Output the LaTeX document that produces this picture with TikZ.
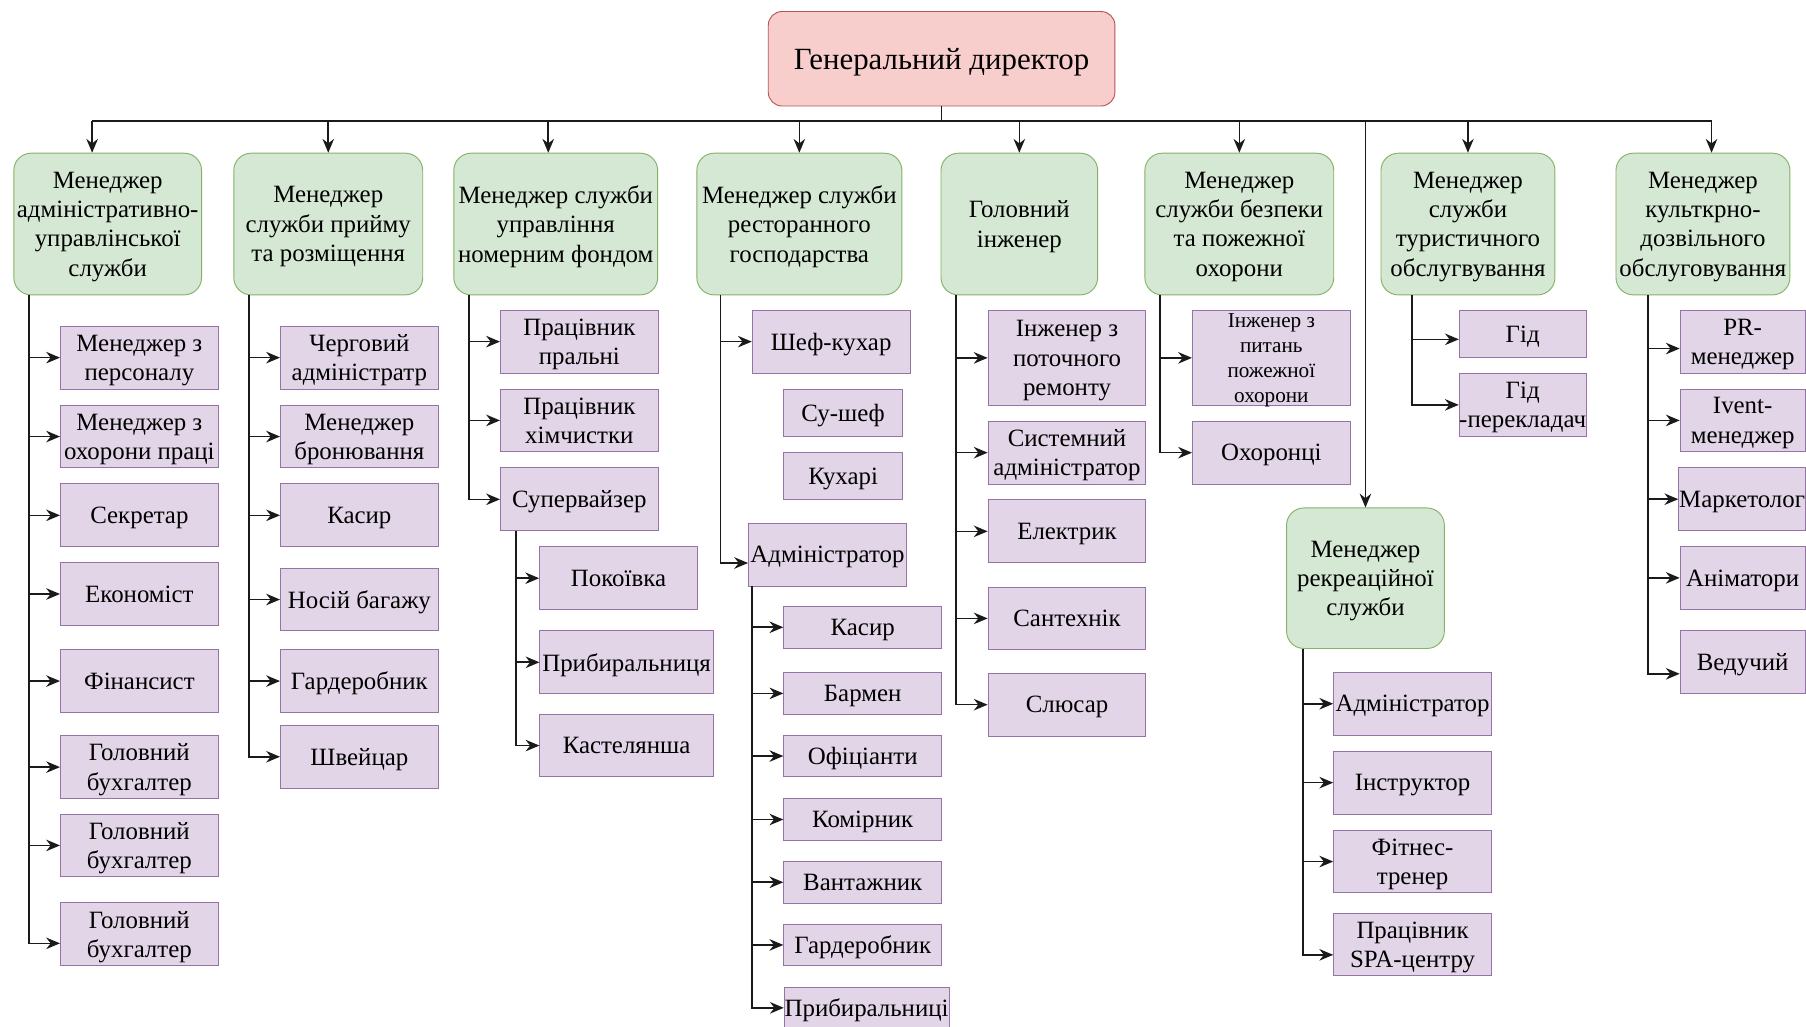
\documentclass[tikz,border=0pt]{standalone}
\usepackage{fontspec}
\setmainfont{Liberation Serif}
\usetikzlibrary{arrows.meta}

\definecolor{bossfill}{HTML}{F8CECC}
\definecolor{bossline}{HTML}{B85450}
\definecolor{mgrfill}{HTML}{D5E8D4}
\definecolor{mgrline}{HTML}{82B366}
\definecolor{stafffill}{HTML}{E1D5E7}
\definecolor{staffline}{HTML}{9673A6}
\definecolor{wirecol}{HTML}{1A1A1A}

\tikzset{
    boss/.style={draw=bossline, fill=bossfill, rounded corners=6pt,
        minimum width=150.5pt, minimum height=41pt,
        font=\fontsize{13.4}{16}\selectfont},
    mgr/.style={draw=mgrline, fill=mgrfill, rounded corners=7.5pt,
        minimum height=61.5pt},
    staff/.style={draw=staffline, fill=stafffill,
        minimum width=68.5pt, minimum height=27.25pt},
    arr/.style={draw=wirecol, line width=0.7pt, -{Stealth[length=6pt,width=5pt]}},
    wire/.style={draw=wirecol, line width=0.7pt},
}

\begin{document}
\begin{tikzpicture}[x=0.5pt, y=-0.5pt,
    every node/.style={font=\fontsize{10.8}{12.7}\selectfont, align=center, inner sep=0pt, text depth=0pt}]
    \fill[white] (0,0) rectangle (1568,891);
    \useasboundingbox (0,0) rectangle (1568,891);
    \clip (0,0) rectangle (1568,891);

    % director and bus
    \node[boss] (dir) at (817.5,51) {Генеральний директор};
    \coordinate (bl) at (80,105);
    \coordinate (bm) at (476,105);
    \coordinate (br) at (1486,105);

    % managers
    \node[mgr, minimum width=81.5pt] (m1) at (93.5,194.5) {Менеджер\\адміністративно-\\управлінської\\служби};
    \node[mgr, minimum width=82pt] (m2) at (285,194.5) {Менеджер\\служби прийму\\та розміщення};
    \node[mgr, minimum width=88.5pt] (m3) at (482.5,194.5) {Менеджер служби\\управління\\номерним фондом};
    \node[mgr, minimum width=89pt] (m4) at (694,194.5) {Менеджер служби\\ресторанного\\господарства};
    \node[mgr, minimum width=68pt] (m5) at (885,194.5) {Головний\\інженер};
    \node[mgr, minimum width=82pt] (m6) at (1076,194.5) {Менеджер\\служби безпеки\\та пожежної\\охорони};
    \node[mgr, minimum width=75.5pt] (m8) at (1274.5,194.5) {Менеджер\\служби\\туристичного\\обслугвування};
    \node[mgr, minimum width=75.5pt] (m9) at (1478.5,194.5) {Менеджер\\культкрно-\\дозвільного\\обслуговування};
    \node[mgr, minimum width=68.5pt, minimum height=61pt] (rec) at (1185.5,502) {Менеджер\\рекреаційної\\служби};

    % administration
    \node[staff] (a1) at (121,310.5) {Менеджер з\\персоналу};
    \node[staff] (a2) at (121,379) {Менеджер з\\охорони праці};
    \node[staff] (a3) at (121,447.4) {Секретар};
    \node[staff] (a4) at (121,515.7) {Економіст};
    \node[staff] (a5) at (121,591.3) {Фінансист};
    \node[staff] (a6) at (121,666) {Головний\\бухгалтер};
    \node[staff] (a7) at (121,734) {Головний\\бухгалтер};
    \node[staff] (a8) at (121,811) {Головний\\бухгалтер};

    % reception
    \node[staff] (b1) at (312,310.5) {Черговий\\адміністратр};
    \node[staff] (b2) at (312,379) {Менеджер\\бронювання};
    \node[staff] (b3) at (312,447.4) {Касир};
    \node[staff] (b4) at (312,520.5) {Носій багажу};
    \node[staff] (b5) at (312,591.3) {Гардеробник};
    \node[staff] (b6) at (312,657) {Швейцар};

    % rooms
    \node[staff] (c1) at (503,296.6) {Працівник\\пральні};
    \node[staff] (c2) at (503,365) {Працівник\\хімчистки};
    \node[staff] (c3) at (503,433.5) {Супервайзер};
    \node[staff] (d1) at (537,502) {Покоївка};
    \node[staff, minimum width=75.25pt] (d2) at (544,575) {Прибиральниця};
    \node[staff, minimum width=75.25pt] (d3) at (544,647.3) {Кастелянша};

    % restaurant
    \node[staff] (e1) at (721.6,296.6) {Шеф-кухар};
    \node[staff, minimum width=51.5pt, minimum height=20.5pt] (e2) at (732,358.4) {Су-шеф};
    \node[staff, minimum width=51.5pt, minimum height=20.5pt] (e3) at (732,413.2) {Кухарі};
    \node[staff] (e4) at (718.4,481.5) {Адміністратор};
    \node[staff, minimum height=18pt] (f1) at (749,544.6) {Касир};
    \node[staff, minimum height=18pt] (f2) at (749,602) {Бармен};
    \node[staff, minimum height=18pt] (f3) at (749,656.4) {Офіціанти};
    \node[staff, minimum height=18pt] (f4) at (749,711.5) {Комірник};
    \node[staff, minimum height=18pt] (f5) at (749,766) {Вантажник};
    \node[staff, minimum height=18pt] (f6) at (749,820.4) {Гардеробник};
    \node[staff, minimum height=18pt, minimum width=71.5pt] (f7) at (752.4,875) {Прибиральниці};

    % engineering
    \node[staff, minimum height=41.5pt] (g1) at (926.4,310.7) {Інженер з\\поточного\\ремонту};
    \node[staff] (g2) at (926.4,393) {Системний\\адміністратор};
    \node[staff] (g3) at (926.4,461.3) {Електрик};
    \node[staff] (g4) at (926.4,536.9) {Сантехнік};
    \node[staff] (g5) at (926.4,611.8) {Слюсар};

    % security
    \node[staff, minimum height=41.5pt, font=\fontsize{9.2}{10.9}\selectfont] (h1) at (1103.8,310.7) {Інженер з\\питань\\пожежної\\охорони};
    \node[staff] (h2) at (1103.8,393) {Охоронці};

    % recreation
    \node[staff] (r1) at (1226.4,611) {Адміністратор};
    \node[staff] (r2) at (1226.4,679.5) {Інструктор};
    \node[staff] (r3) at (1226.4,748) {Фітнес-\\тренер};
    \node[staff] (r4) at (1226.4,820) {Працівник\\SPA-центру};

    % tourism
    \node[staff, minimum width=55pt, minimum height=20.7pt] (t1) at (1322,290) {Гід};
    \node[staff, minimum width=55pt] (t2) at (1322,351.5) {Гід\\-перекладач};

    % leisure
    \node[staff, minimum width=54.25pt] (u1) at (1513,296.6) {PR-\\менеджер};
    \node[staff, minimum width=54.25pt] (u2) at (1513,365) {Ivent-\\менеджер};
    \node[staff, minimum width=55pt] (u3) at (1512.5,433.4) {Маркетолог};
    \node[staff, minimum width=54.25pt] (u4) at (1513,501.7) {Аніматори};
    \node[staff, minimum width=54.25pt] (u5) at (1513,575) {Ведучий};

    % top level links
    \draw[wire] (dir.south) -- (dir.south |- bl);
    \draw[wire] (bl) -- (br);
    \draw[arr] (bl) -- (bl |- m1.north);
    \draw[arr] (bm) -- (bm |- m3.north);
    \draw[arr] (br) -- (br |- m9.north);
    \foreach \m in {m2,m4,m5,m6,m8,rec}
        \draw[arr] (\m.north |- bl) -- (\m.north);

    % trunks
    \coordinate (la) at ([xshift=6.75pt]m1.south west);
    \coordinate (lb) at ([xshift=6.75pt]m2.south west);
    \coordinate (lc) at ([xshift=6.75pt]m3.south west);
    \coordinate (ld) at ([xshift=7pt]c3.south west);
    \coordinate (le) at ([xshift=10.5pt]m4.south west);
    \coordinate (lf) at ([xshift=1.8pt]e4.south west);
    \coordinate (lg) at ([xshift=6.8pt]m5.south west);
    \coordinate (lh) at ([xshift=6.85pt]m6.south west);
    \coordinate (lr) at ([xshift=7.3pt]rec.south west);
    \coordinate (lt) at ([xshift=13.75pt]m8.south west);
    \coordinate (lu) at ([xshift=14pt]m9.south west);

    \foreach \i in {1,...,7} \draw[arr] (la) |- (a\i);
    \draw[arr] (la) |- ([yshift=-4pt]a8.west);
    \foreach \i in {1,...,6} \draw[arr] (lb) |- (b\i);
    \foreach \i in {1,...,3} \draw[arr] (lc) |- (c\i);
    \foreach \i in {1,...,3} \draw[arr] (ld) |- (d\i);
    \draw[arr] (le) |- (e1);
    \draw[arr] (le) |- ([yshift=-3.65pt]e4.west);
    \foreach \i in {1,...,7} \draw[arr] (lf) |- (f\i);
    \foreach \i in {1,...,5} \draw[arr] (lg) |- (g\i);
    \foreach \i in {1,2} \draw[arr] (lh) |- (h\i);
    \foreach \i in {1,...,3} \draw[arr] (lr) |- (r\i);
    \draw[arr] (lr) |- ([yshift=-4.5pt]r4.west);
    \draw[arr] (lt) |- ([yshift=-2.3pt]t1.west);
    \draw[arr] (lt) |- (t2);
    \draw[arr] (lu) |- ([yshift=-3pt]u1.west);
    \foreach \i in {2,3,4} \draw[arr] (lu) |- (u\i);
    \draw[arr] (lu) |- ([yshift=-5pt]u5.west);
\end{tikzpicture}
\end{document}
